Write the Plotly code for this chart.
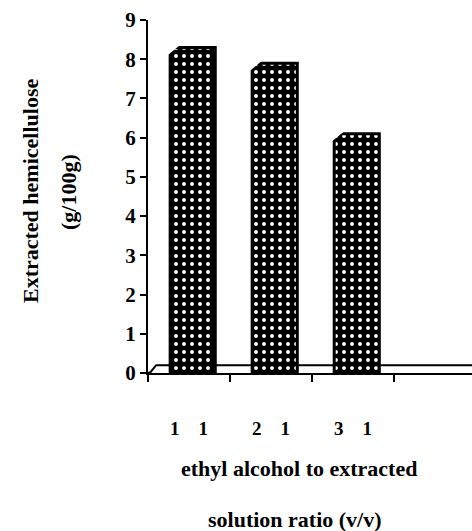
import plotly.graph_objects as go

# ---- data ----
categories = ["1\u00a0\u00a0\u00a0\u00a01", "2\u00a0\u00a0\u00a0\u00a01", "3\u00a0\u00a0\u00a0\u00a01"]
values = [8.3, 7.9, 6.1]
y_ticks = [0, 1, 2, 3, 4, 5, 6, 7, 8, 9]
y_title_1 = "Extracted hemicellulose"
y_title_2 = "(g/100g)"
x_title_1 = "ethyl alcohol to extracted"
x_title_2 = "solution ratio (v/v)"

FONT = "Liberation Serif"
W, H = 472, 531
ML, MR, MT, MB = 148, 0, 20, 158
PW, PH = W - ML - MR, H - MT - MB
xpos = list(range(len(categories)))
bar_offset = -0.23
bar_width = 0.55


def px_to_paper_x(px):
    return (px - ML) / PW


def px_to_paper_y(py):
    return (H - MB - py) / PH


fig = go.Figure()

# floor slab (3D base)
fig.add_trace(go.Scatter(
    x=[-0.5, -0.47, -0.4, 3.45], y=[0, 0.02, 0.2, 0.2],
    mode="lines", line=dict(color="black", width=2),
    hoverinfo="skip", showlegend=False, cliponaxis=False))

fig.add_trace(go.Bar(
    x=xpos, y=values, offset=bar_offset, width=bar_width,
    marker=dict(color="black",
                line=dict(color="black", width=3),
                pattern=dict(shape=".", bgcolor="black", fgcolor="white",
                             size=8, solidity=0.19, fillmode="replace")),
    showlegend=False))

# bevelled top-left corners (derived from bar values)
shapes = []
for xp, v in zip(xpos, values):
    x0 = xp + bar_offset - 0.03
    shapes.append(dict(type="path", xref="x", yref="y",
                       path=f"M {x0},{v+0.06} L {x0+0.15},{v+0.06} L {x0},{v-0.2} Z",
                       fillcolor="white", line=dict(width=0)))

bold = lambda s: dict(family=FONT, size=s, color="black", weight="bold")

annotations = []
for xp, lab in zip(xpos, categories):
    annotations.append(dict(x=xp, y=px_to_paper_y(428), xref="x", yref="paper", text=lab,
                            xanchor="center", yanchor="middle", showarrow=False, font=bold(19)))
annotations.append(dict(x=px_to_paper_x(299), y=px_to_paper_y(468), xref="paper", yref="paper",
                        text=x_title_1, xanchor="center", yanchor="middle", showarrow=False, font=bold(22)))
annotations.append(dict(x=px_to_paper_x(295), y=px_to_paper_y(519), xref="paper", yref="paper",
                        text=x_title_2, xanchor="center", yanchor="middle", showarrow=False, font=bold(22)))
annotations.append(dict(x=px_to_paper_x(30), y=px_to_paper_y(191), xref="paper", yref="paper",
                        text=y_title_1, textangle=-90, xanchor="center", yanchor="middle",
                        showarrow=False, font=bold(22)))
annotations.append(dict(x=px_to_paper_x(68), y=px_to_paper_y(192), xref="paper", yref="paper",
                        text=y_title_2, textangle=-90, xanchor="center", yanchor="middle",
                        showarrow=False, font=bold(22)))

fig.update_layout(
    width=W, height=H, autosize=False,
    margin=dict(l=ML, r=MR, t=MT, b=MB, pad=0),
    paper_bgcolor="white", plot_bgcolor="white",
    shapes=shapes, annotations=annotations,
    xaxis=dict(range=[-0.5, 3.45], tickmode="array", tickvals=[-0.5, 0.5, 1.5, 2.5],
               ticktext=["", "", "", ""], ticks="outside", ticklen=7, tickwidth=2,
               tickcolor="black", showline=True, linecolor="black", linewidth=2,
               showgrid=False, zeroline=False, fixedrange=True, automargin=False),
    yaxis=dict(range=[0, 9], tickmode="array", tickvals=y_ticks,
               ticks="outside", ticklen=6, tickwidth=2, tickcolor="black",
               showline=True, linecolor="black", linewidth=2, showgrid=False,
               zeroline=False, automargin=False, tickfont=bold(21)),
)

fig.write_html("out.html", config={"displayModeBar": False},
               post_script="document.body.style.margin='0';")
